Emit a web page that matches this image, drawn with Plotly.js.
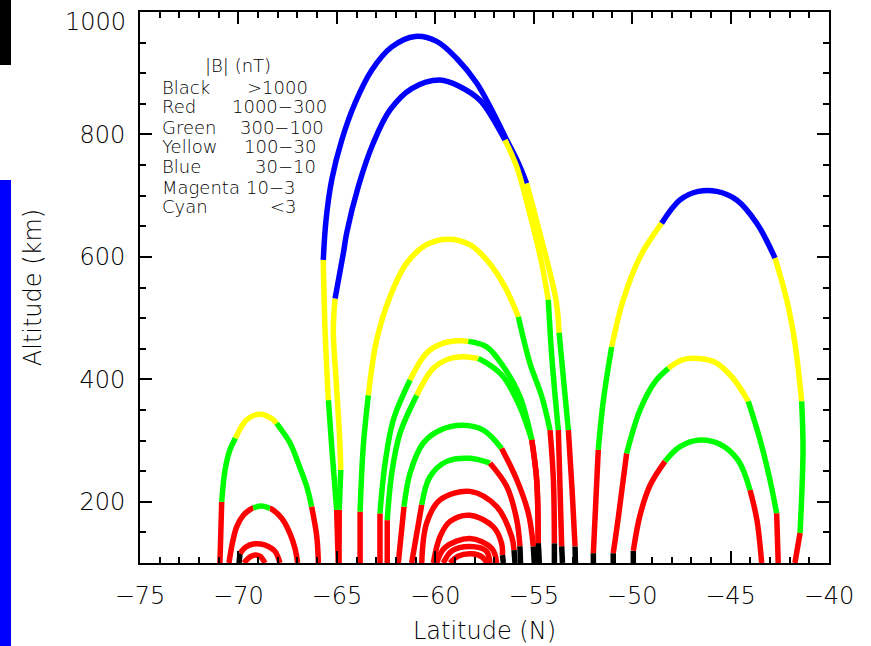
<!DOCTYPE html>
<html>
<head>
<meta charset="utf-8">
<script src="https://cdn.plot.ly/plotly-3.0.1.min.js"></script>
<style>
  html, body { margin: 0; padding: 0; background: #ffffff; }
  #chart { width: 871px; height: 646px; }
</style>
</head>
<body>
<div id="chart"></div>
<script>
// ---- Field-line data: latitude (deg N), altitude (km), colour code per segment ----
// Colour codes: K = Black (>1000 nT), R = Red, G = Green, Y = Yellow, B = Blue
const A1_lat = [-70.94,-70.89,-70.85,-70.68,-70.43,-70.15,-69.58,-68.90,-68.31,-68.06,-67.38,-66.96,-66.53,-66.28,-66.02,-65.94];
const A1_alt = [100,154,200,252,285,304,334,343,336,328,296,263,225,192,143,100];
const A1_col = "RRGGGYYYYGGGGRR";

const A2_lat = [-70.48,-70.31,-70.09,-69.75,-69.33,-69.25,-68.82,-68.40,-68.31,-67.80,-67.38,-67.13,-66.99];
const A2_alt = [100,132,159,178,189,190,193,189,188,173,148,124,100];
const A2_col = "RRRRRGGRRRRR";

const A3_lat = [-69.97,-69.92,-69.62,-69.25,-68.87,-68.48,-68.14,-67.89];
const A3_alt = [100,116,126,131,131,127,119,100];
const A3_col = "KRRRRRR";

const A4_lat = [-69.72,-69.41,-69.16,-68.90,-68.65];
const A4_alt = [100,110,113,111,100];
const A4_col = "RRRR";

const B1_lat = [-64.93,-65.01,-65.26,-65.43,-65.60,-65.69,-65.55,-65.26,-64.75,-64.08,-63.23,-62.21,-61.03,-59.93,-58.91,-57.90,-57.13,-56.37,-55.78,-55.36,-54.73,-53.87,-53.71,-53.46,-53.24,-53.05,-52.90,-52.88];
const B1_alt = [100,187,290,366,481,595,660,726,791,851,905,943,960,952,924,884,840,791,753,720,644,530,476,391,317,219,127,100];
const B1_col = "RGGYYBBBBBBBBBBBBBBYYYGGRRK";

const B2_lat = [-64.89,-64.88,-64.80,-64.88,-65.04,-65.18,-65.09,-64.67,-64.50,-63.91,-63.15,-62.30,-61.20,-59.76,-58.74,-57.73,-57.13,-56.46,-55.86,-55.19,-54.63,-54.26,-54.07,-53.75,-53.66,-53.58,-53.54];
const B2_alt = [100,187,252,317,399,481,532,606,639,715,786,840,875,889,878,856,829,791,747,669,595,530,432,317,219,127,100];
const B2_col = "RGYYYYBBBBBBBBBBBYYYYGGRRK";

const B3_lat = [-63.82,-63.82,-63.66,-63.40,-62.98,-62.30,-61.45,-60.44,-59.34,-58.24,-57.31,-56.46,-55.78,-55.19,-54.59,-54.17,-54.00,-53.95,-53.95];
const B3_alt = [100,184,290,374,464,535,590,620,629,620,592,551,502,426,372,317,236,132,100];
const B3_col = "RGGYYYYYYYYYGGGRRK";

const B4_lat = [-62.81,-62.81,-62.55,-62.13,-61.28,-60.44,-59.59,-58.74,-58.32,-57.39,-56.54,-55.70,-55.10,-54.85,-54.77,-54.73];
const B4_alt = [100,181,263,334,399,443,459,463,462,453,421,372,301,236,132,100];
const B4_col = "RGGGYYYYGGGGRRK";

const B5_lat = [-62.44,-62.44,-62.21,-61.79,-60.94,-60.10,-59.25,-58.58,-57.81,-57.22,-56.54,-55.70,-55.10,-54.85,-54.77,-54.73];
const B5_alt = [100,170,247,312,374,418,434,437,434,423,404,355,301,236,132,100];
const B5_col = "RGGGYYYYGGGGRRK";

const B6_lat = [-61.88,-61.59,-61.28,-60.61,-59.76,-58.58,-57.56,-56.63,-55.86,-55.27,-55.02,-54.97];
const B6_alt = [100,192,247,296,317,325,317,287,236,181,127,100];
const B6_col = "RGGGGGGRRRK";

const B7_lat = [-61.20,-60.69,-60.27,-59.42,-58.24,-57.22,-56.37,-55.86,-55.70,-55.67];
const B7_alt = [100,195,241,266,271,263,225,170,127,100];
const B7_col = "RGGGGRRRK";

const B8_lat = [-60.69,-60.44,-59.76,-58.24,-56.88,-56.12,-56.00,-55.95];
const B8_alt = [100,165,203,217,192,143,121,100];
const B8_col = "RRRRRRK";

const B9_lat = [-60.10,-59.76,-59.25,-58.24,-57.05,-56.63,-56.59,-56.54];
const B9_alt = [100,143,168,178,159,132,113,100];
const B9_col = "RRRRRRK";

const B10_lat = [-59.93,-59.51,-58.24,-57.13,-56.88];
const B10_alt = [100,125,140,124,100];
const B10_col = "RRRR";

const B11_lat = [-59.59,-59.15,-58.24,-57.42,-57.22];
const B11_alt = [100,120,127,120,100];
const B11_col = "RRRR";

const B12_lat = [-59.25,-58.85,-58.15,-57.63,-57.37];
const B12_alt = [100,111,115,110,100];
const B12_col = "RRRR";

const C1_lat = [-51.97,-51.97,-51.72,-51.46,-51.04,-50.45,-49.60,-48.50,-47.57,-46.64,-45.70,-44.69,-43.67,-42.74,-42.15,-41.73,-41.39,-41.32,-41.47,-41.73];
const C1_alt = [100,116,285,366,453,530,600,655,693,707,707,693,655,598,530,459,364,285,149,100];
const C1_col = "KRGGYYYBBBBBBYYYGGR";

const C2_lat = [-50.96,-50.96,-50.72,-50.28,-49.60,-48.84,-48.16,-47.42,-46.64,-45.79,-44.88,-44.10,-43.50,-43.00,-42.66,-42.58];
const C2_alt = [100,116,170,279,350,396,418,432,434,428,402,364,301,236,181,100];
const C2_col = "KRRGGGYYYYYGGGR";

const C3_lat = [-49.94,-49.94,-49.60,-49.09,-48.33,-47.57,-46.55,-45.54,-44.62,-44.01,-43.66,-43.42];
const C3_alt = [100,120,178,227,266,290,301,294,268,219,170,100];
const C3_col = "KRRRGGGGGRR";

// Legend text
const legendTitle = "|B| (nT)";
const legendNames = ["Black", "Red", "Green", "Yellow", "Blue", "Magenta", "Cyan"];
const legendRanges = [">1000", "1000\u2212300", "300\u2212100", "100\u221230", "30\u221210", "10\u22123", "<3"];

// Axis ticks
const xTickVals = [-75, -70, -65, -60, -55, -50, -45, -40];
const yTickVals = [200, 400, 600, 800, 1000];
const yTickText = ["200", "400", "600", "800", ""];   // top label drawn separately (sits below its tick)
const yTopLabel = "1000";

// ---- Build traces ----
const COLOR = { K: "#000000", R: "#ff0000", G: "#00ff00", Y: "#ffff00", B: "#0000ff" };
const arcs = [
  [A1_lat, A1_alt, A1_col], [A2_lat, A2_alt, A2_col], [A3_lat, A3_alt, A3_col], [A4_lat, A4_alt, A4_col],
  [B1_lat, B1_alt, B1_col], [B2_lat, B2_alt, B2_col], [B3_lat, B3_alt, B3_col], [B4_lat, B4_alt, B4_col],
  [B5_lat, B5_alt, B5_col], [B6_lat, B6_alt, B6_col], [B7_lat, B7_alt, B7_col], [B8_lat, B8_alt, B8_col],
  [B9_lat, B9_alt, B9_col], [B10_lat, B10_alt, B10_col], [B11_lat, B11_alt, B11_col], [B12_lat, B12_alt, B12_col],
  [C1_lat, C1_alt, C1_col], [C2_lat, C2_alt, C2_col], [C3_lat, C3_alt, C3_col]
];

const traces = [];
arcs.forEach(([lat, alt, col]) => {
  let start = 0;
  for (let i = 1; i <= col.length; i++) {
    if (i === col.length || col[i] !== col[start]) {
      traces.push({
        type: "scatter", mode: "lines",
        x: lat.slice(start, i + 1), y: alt.slice(start, i + 1),
        line: { color: COLOR[col[start]], width: 5.5, shape: "spline", smoothing: 1 },
        hoverinfo: "skip", showlegend: false
      });
      start = i;
    }
  }
});

const FONT = "DejaVu Sans, Liberation Sans, sans-serif";
const legendFont = { family: FONT, size: 18, color: "#000", weight: 300 };

const annotations = [{
  x: -70.02, y: 912, xref: "x", yref: "y", text: legendTitle, showarrow: false,
  xanchor: "center", yanchor: "middle", font: legendFont
}];
const rowAlt = [876, 845, 811, 780, 747, 714, 682];
const rangeX = [-69.67, -70.43, -70.02, -69.83, -69.26, -69.70, -68.50];
legendNames.forEach((n, i) => {
  annotations.push({ x: -73.98, y: rowAlt[i], xref: "x", yref: "y", text: n, showarrow: false,
    xanchor: "left", yanchor: "middle", font: legendFont });
  annotations.push({ x: rangeX[i], y: rowAlt[i], xref: "x", yref: "y", text: legendRanges[i], showarrow: false,
    xanchor: "left", yanchor: "middle", font: legendFont });
});
annotations.push({ x: -0.0174, y: 0.9819, xref: "paper", yref: "paper", text: yTopLabel, showarrow: false,
  xanchor: "right", yanchor: "middle", font: { family: FONT, size: 24, color: "#000", weight: 300 } });

const axisCommon = {
  ticks: "inside", ticklen: 12, tickwidth: 2, tickcolor: "#000",
  showline: true, linecolor: "#000", linewidth: 2, mirror: "ticks",
  showgrid: false, zeroline: false,
  tickfont: { family: FONT, size: 24, color: "#000", weight: 300 }
};

const layout = {
  width: 871, height: 646,
  margin: { l: 140, r: 42, t: 12, b: 83 },
  paper_bgcolor: "#ffffff", plot_bgcolor: "#ffffff",
  showlegend: false,
  xaxis: Object.assign({}, axisCommon, {
    range: [-75, -40], tickmode: "array", tickvals: xTickVals,
    ticklabelstandoff: 10,
    minor: { dtick: 1, tick0: -75, ticks: "inside", ticklen: 6, tickwidth: 2, tickcolor: "#000", showgrid: false },
    title: { text: "Latitude (N)", font: { family: FONT, size: 24, color: "#000", weight: 300 }, standoff: 13 }
  }),
  yaxis: Object.assign({}, axisCommon, {
    range: [100, 1000], tickmode: "array", tickvals: yTickVals, ticktext: yTickText,
    ticklabelstandoff: 8,
    minor: { dtick: 50, tick0: 0, ticks: "inside", ticklen: 6, tickwidth: 2, tickcolor: "#000", showgrid: false },
    title: { text: "Altitude (km)", font: { family: FONT, size: 24, color: "#000", weight: 300 }, standoff: 31 }
  }),
  annotations: annotations,
  shapes: [
    { type: "rect", xref: "paper", yref: "paper", x0: -0.2032, x1: -0.1872, y0: 0.9038, y1: 1.0218,
      fillcolor: "#000000", line: { width: 0 }, layer: "above" },
    { type: "rect", xref: "paper", yref: "paper", x0: -0.2032, x1: -0.1872, y0: -0.1506, y1: 0.695,
      fillcolor: "#0000ff", line: { width: 0 }, layer: "above" }
  ]
};

Plotly.newPlot("chart", traces, layout, { staticPlot: true, displayModeBar: false });
</script>
</body>
</html>
